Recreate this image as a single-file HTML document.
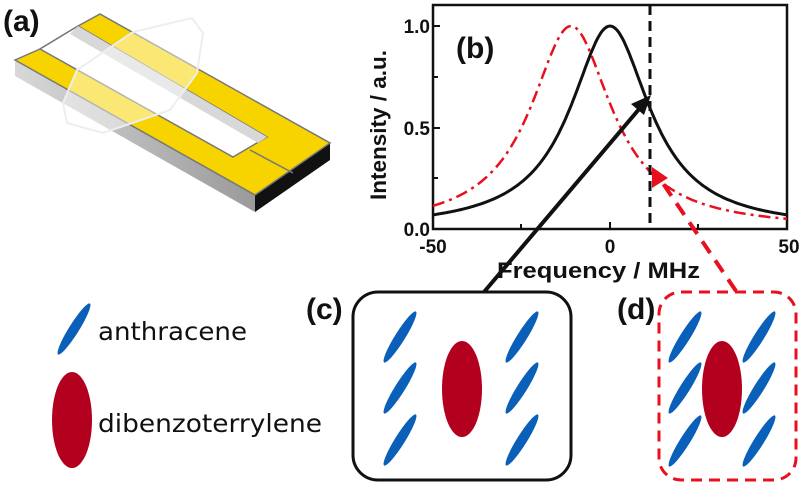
<!DOCTYPE html>
<html><head><meta charset="utf-8"><style>
html,body{margin:0;padding:0;background:#fff;}
svg{display:block;}
text{font-family:"Liberation Sans",sans-serif;}
</style></head><body>
<svg width="800" height="484" viewBox="0 0 800 484" xmlns="http://www.w3.org/2000/svg">
<defs>
<linearGradient id="side" x1="0" y1="0" x2="1" y2="0"><stop offset="0" stop-color="#d8d8d8"/><stop offset="1" stop-color="#9a9a9a"/></linearGradient>
</defs>
<!-- (a) device -->
<text x="3" y="31" font-size="30" font-weight="bold" fill="#111">(a)</text>
<polygon points="15,60 255,195 255,212 15,76" fill="url(#side)"/>
<polygon points="255,195 330,143 330,160 255,212" fill="#111"/>
<polygon points="78,26 100,14 100,28 78,40" fill="#cfcfcf"/>
<polygon points="15,60 40,49 78,26 100,14 330,143 255,195" fill="#f7d300" stroke="#777" stroke-width="1.5"/>
<polygon points="40,49 78,26 267,137 233,157" fill="#fff" stroke="#777" stroke-width="1.5"/>
<polygon points="78,26 267,137 258,143 70,34" fill="#d8d8d8"/>
<line x1="250" y1="150" x2="293" y2="173" stroke="#777" stroke-width="1.5"/>
<polygon points="133,32 192,18 203,33 197,73 170,110 103,133 67,123 63,103 77,70" fill="#fff" fill-opacity="0.45" stroke="#eee" stroke-width="2"/>
<!-- (b) plot -->
<rect x="433" y="5" width="354" height="224" fill="none" stroke="#111" stroke-width="2.5"/>
<g stroke="#111" stroke-width="2">
<line x1="521" y1="229" x2="521" y2="224"/><line x1="610" y1="229" x2="610" y2="222"/><line x1="698" y1="229" x2="698" y2="224"/>
<line x1="433" y1="178" x2="438" y2="178"/><line x1="433" y1="128" x2="440" y2="128"/><line x1="433" y1="77" x2="438" y2="77"/><line x1="433" y1="26" x2="440" y2="26"/>
</g>
<path id="red" d="" fill="none" stroke="#e8101e" stroke-width="2.5" stroke-dasharray="12,5,3,5"/>
<path id="blk" d="" fill="none" stroke="#111" stroke-width="3"/>
<line x1="650" y1="5" x2="650" y2="229" stroke="#111" stroke-width="3" stroke-dasharray="10,6"/>
<g font-size="19" font-weight="bold" fill="#111">
<text x="430" y="33" text-anchor="end">1.0</text>
<text x="430" y="135" text-anchor="end">0.5</text>
<text x="430" y="236" text-anchor="end">0.0</text>
<text x="433" y="253" text-anchor="middle">-50</text>
<text x="610" y="253" text-anchor="middle">0</text>
<text x="789" y="253" text-anchor="middle">50</text>
</g>
<text x="497" y="278" font-size="22" font-weight="bold" fill="#111" textLength="203" lengthAdjust="spacingAndGlyphs">Frequency / MHz</text>
<text transform="translate(386,200) rotate(-90)" font-size="22" font-weight="bold" fill="#111" textLength="150" lengthAdjust="spacingAndGlyphs">Intensity / a.u.</text>
<text x="456" y="58" font-size="30" font-weight="bold" fill="#111">(b)</text>
<!-- arrows -->
<line x1="484" y1="292" x2="640" y2="108" stroke="#111" stroke-width="4"/>
<polygon points="651,95 631,104 644,115" fill="#111"/>
<line x1="736" y1="291" x2="662" y2="182" stroke="#e8101e" stroke-width="4" stroke-dasharray="14,9"/>
<polygon points="652,167 652,188 668,178" fill="#e8101e"/>
<!-- (c) -->
<text x="306" y="319" font-size="30" font-weight="bold" fill="#111">(c)</text>
<rect x="353" y="292" width="218" height="188" rx="25" fill="#fff" stroke="#111" stroke-width="3"/>
<!-- (d) -->
<text x="617" y="319" font-size="30" font-weight="bold" fill="#111">(d)</text>
<rect x="659" y="292" width="137" height="188" rx="22" fill="#fff" stroke="#e8101e" stroke-width="3" stroke-dasharray="11,7"/>
<g fill="#0a5fb8">
<ellipse cx="400" cy="337" rx="30" ry="5" transform="rotate(-58 400 337)"/>
<ellipse cx="400" cy="388" rx="30" ry="5" transform="rotate(-58 400 388)"/>
<ellipse cx="400" cy="440" rx="30" ry="5" transform="rotate(-58 400 440)"/>
<ellipse cx="522" cy="337" rx="30" ry="5" transform="rotate(-58 522 337)"/>
<ellipse cx="522" cy="388" rx="30" ry="5" transform="rotate(-58 522 388)"/>
<ellipse cx="522" cy="440" rx="30" ry="5" transform="rotate(-58 522 440)"/>
<ellipse cx="685" cy="337" rx="30" ry="5" transform="rotate(-58 685 337)"/>
<ellipse cx="685" cy="388" rx="30" ry="5" transform="rotate(-58 685 388)"/>
<ellipse cx="685" cy="441" rx="30" ry="5" transform="rotate(-58 685 441)"/>
<ellipse cx="759" cy="337" rx="30" ry="5" transform="rotate(-58 759 337)"/>
<ellipse cx="759" cy="388" rx="30" ry="5" transform="rotate(-58 759 388)"/>
<ellipse cx="759" cy="441" rx="30" ry="5" transform="rotate(-58 759 441)"/>
<ellipse cx="74" cy="329" rx="30" ry="5" transform="rotate(-58 74 329)"/>
</g>
<g fill="#b3001e">
<ellipse cx="462" cy="389" rx="20" ry="48"/>
<ellipse cx="722" cy="389" rx="20" ry="48"/>
<ellipse cx="72" cy="420" rx="20" ry="48"/>
</g>
<text x="98" y="340" font-size="25" fill="#111" style="font-family:'DejaVu Sans',sans-serif" textLength="149" lengthAdjust="spacingAndGlyphs">anthracene</text>
<text x="98" y="432" font-size="25" fill="#111" style="font-family:'DejaVu Sans',sans-serif" textLength="224" lengthAdjust="spacingAndGlyphs">dibenzoterrylene</text>
</svg>
<script>
function path(c,g){var d="";for(var f=-50;f<=50;f+=0.5){var v=g*g/(g*g+(f-c)*(f-c));var x=610+f*3.54,y=229-v*203;d+=(d?"L":"M")+x.toFixed(1)+","+y.toFixed(1);}return d;}
document.getElementById("blk").setAttribute("d",path(0,13.7));
document.getElementById("red").setAttribute("d",path(-11,14));
</script>
</body></html>
